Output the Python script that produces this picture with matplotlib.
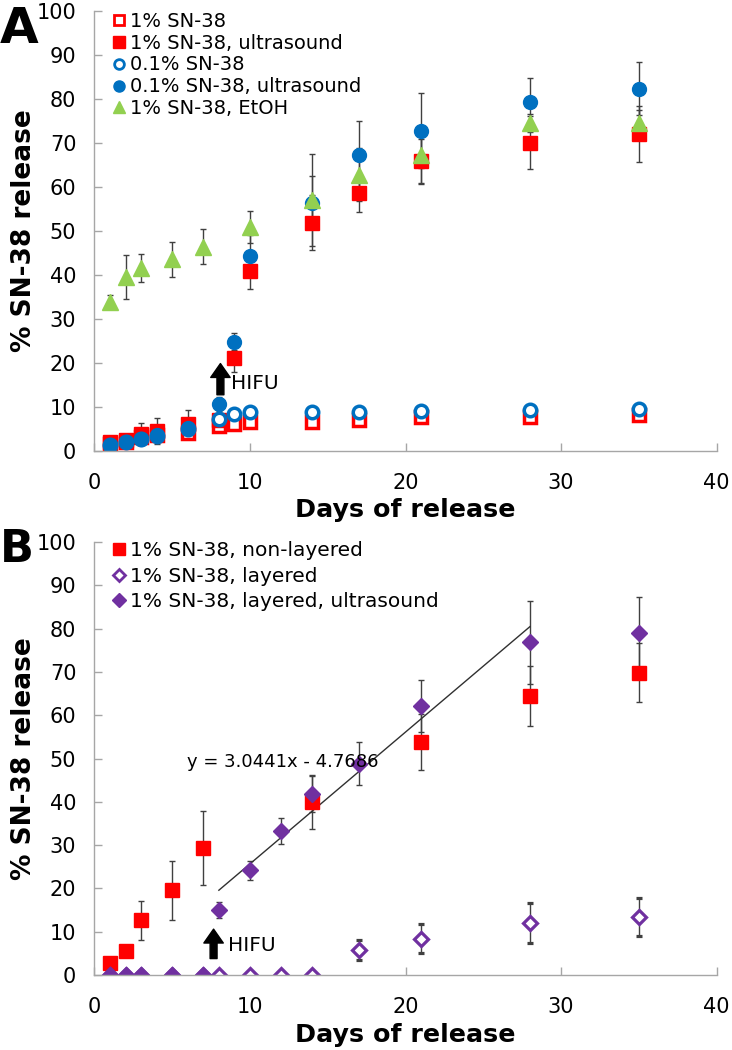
import matplotlib
matplotlib.use("Agg")
import matplotlib.pyplot as plt
from matplotlib.lines import Line2D

plt.rcParams['font.family'] = ['DejaVu Sans']

# ---------------- Panel A data ----------------
days_a = [1, 2, 3, 4, 6, 8, 9, 10, 14, 17, 21, 28, 35]
red_open = [1.5, 2.0, 3.0, 3.5, 4.0, 5.5, 6.0, 6.5, 6.6, 7.0, 7.6, 7.7, 8.1]
red_open_err = [0.5, 0.5, 0.5, 0.5, 0.8, 0.8, 0.8, 1.0, 1.0, 1.0, 1.0, 0.8, 0.8]
red_fill = [2.0, 2.5, 3.8, 4.5, 6.0, 7.0, 21.1, 40.8, 51.8, 58.5, 65.9, 70.0, 71.9]
red_fill_err = [0.5, 0.8, 2.6, 3.0, 3.2, 1.0, 3.3, 4.0, 6.2, 4.2, 5.0, 6.0, 6.4]
blue_open = [1.3, 2.0, 2.6, 3.4, 5.0, 7.1, 8.3, 8.7, 8.7, 8.9, 9.0, 9.2, 9.4]
blue_open_err = [0.3, 0.3, 0.3, 0.3, 0.5, 0.8, 0.8, 0.8, 0.8, 0.8, 0.8, 0.8, 0.8]
blue_fill = [1.3, 2.0, 2.6, 3.6, 5.1, 10.6, 24.8, 44.3, 56.4, 67.2, 72.7, 79.3, 82.3]
blue_fill_err = [0.3, 0.4, 0.5, 0.6, 1.0, 1.5, 1.9, 4.8, 6.0, 7.8, 8.5, 5.5, 6.0]
days_g = [1, 2, 3, 5, 7, 10, 14, 17, 21, 28, 35]
green = [33.9, 39.5, 41.6, 43.5, 46.4, 50.9, 57.0, 62.7, 67.2, 74.5, 74.5]
green_err = [1.5, 5.0, 3.2, 4.0, 4.0, 3.6, 10.4, 6.0, 6.5, 2.0, 3.0]
labels_a = ["1% SN-38", "1% SN-38, ultrasound", "0.1% SN-38",
            "0.1% SN-38, ultrasound", "1% SN-38, EtOH"]

# ---------------- Panel B data ----------------
days_b_red = [1, 2, 3, 5, 7, 14, 21, 28, 35]
red_b = [2.7, 5.5, 12.7, 19.6, 29.3, 40.0, 53.8, 64.4, 69.8]
red_b_err = [0.8, 1.0, 4.5, 6.8, 8.6, 6.3, 6.5, 7.0, 6.8]
days_b = [1, 2, 3, 5, 7, 8, 10, 12, 14, 17, 21, 28, 35]
layered = [0, 0, 0, 0, 0, 0, 0, 0, 0, 5.8, 8.4, 12.1, 13.5]
layered_err = [0, 0, 0, 0, 0, 0, 0, 0, 0, 2.4, 3.4, 4.6, 4.4]
layered_us = [0, 0, 0, 0, 0, 15.0, 24.2, 33.3, 41.8, 48.8, 62.2, 76.8, 79.0]
layered_us_err = [0, 0, 0, 0, 0, 1.8, 2.2, 3.0, 4.2, 5.0, 6.0, 9.5, 8.4]
labels_b = ["1% SN-38, non-layered", "1% SN-38, layered",
            "1% SN-38, layered, ultrasound"]
trend_slope = 3.0441
trend_intercept = -4.7686
trend_x = [8, 28]
trend_label = "y = 3.0441x - 4.7686"

RED = "#FF0000"
BLUE = "#0070C0"
GREEN = "#92D050"
PURPLE = "#7030A0"
ERR = "#404040"
SPINE = "#A6A6A6"

fig = plt.figure(figsize=(7.32, 10.5), dpi=100)
axA = fig.add_axes([0.129, 0.5708, 0.850, 0.4190])
axB = fig.add_axes([0.129, 0.0714, 0.850, 0.4124])

ekw = dict(ecolor=ERR, elinewidth=1.0, capsize=2.5, capthick=1.0, linestyle='none')


def style(ax):
    ax.set_xlim(0, 40)
    ax.set_ylim(0, 100)
    ax.set_xticks([0, 10, 20, 30, 40])
    ax.set_yticks(range(0, 101, 10))
    for s in ['top', 'right']:
        ax.spines[s].set_visible(False)
    for s in ['left', 'bottom']:
        ax.spines[s].set_color(SPINE)
        ax.spines[s].set_linewidth(1.0)
    ax.tick_params(direction='in', length=6, width=1, color=SPINE, labelsize=15)
    ax.tick_params(axis='x', pad=16)
    ax.tick_params(axis='y', pad=13)
    ax.set_xlabel("Days of release", fontsize=18.3, fontweight='bold', labelpad=4)
    ax.set_ylabel("% SN-38 release", fontsize=19, fontweight='bold', labelpad=0)


def proxy(marker, ms, mfc, mec, mew):
    return Line2D([], [], linestyle='none', marker=marker, ms=ms,
                  mfc=mfc, mec=mec, mew=mew)


# ---- Panel A ----
axA.errorbar(days_a, red_open, yerr=red_open_err, marker='s', ms=9,
             mfc='white', mec=RED, mew=2.5, **ekw)
axA.errorbar(days_a, red_fill, yerr=red_fill_err, marker='s', ms=10,
             mfc=RED, mec=RED, mew=1, **ekw)
axA.errorbar(days_a, blue_open, yerr=blue_open_err, marker='o', ms=9,
             mfc='white', mec=BLUE, mew=2.5, **ekw)
axA.errorbar(days_a, blue_fill, yerr=blue_fill_err, marker='o', ms=10,
             mfc=BLUE, mec=BLUE, mew=1, **ekw)
axA.errorbar(days_g, green, yerr=green_err, marker='^', ms=11,
             mfc=GREEN, mec=GREEN, mew=1, **ekw)
style(axA)
handles_a = [proxy('s', 7, 'white', RED, 2.0), proxy('s', 8, RED, RED, 1),
             proxy('o', 7, 'white', BLUE, 2.0), proxy('o', 8, BLUE, BLUE, 1),
             proxy('^', 9, GREEN, GREEN, 1)]
axA.legend(handles_a, labels_a, loc='upper left', bbox_to_anchor=(0.032, 0.998),
           frameon=False, fontsize=14, handlelength=0.5, handletextpad=0.3,
           labelspacing=0.15, borderaxespad=0, borderpad=0)
axA.annotate("", xy=(8.1, 19.8), xytext=(8.1, 12.7),
             arrowprops=dict(facecolor='black', edgecolor='black',
                             width=5, headwidth=14, headlength=10, shrink=0))
axA.text(8.8, 15.2, "HIFU", fontsize=14.5, va='center', ha='left')
fig.text(0.0, 0.995, "A", fontsize=36, fontweight='bold', va='top', ha='left')

# ---- Panel B ----
axB.errorbar(days_b_red, red_b, yerr=red_b_err, marker='s', ms=10.5,
             mfc=RED, mec=RED, mew=1, **ekw)
axB.errorbar(days_b, layered, yerr=layered_err, marker='D', ms=7.5,
             mfc='white', mec=PURPLE, mew=2.3, **ekw)
axB.errorbar(days_b, layered_us, yerr=layered_us_err, marker='D', ms=8.5,
             mfc=PURPLE, mec=PURPLE, mew=1, **ekw)
axB.plot(trend_x, [trend_slope * x + trend_intercept for x in trend_x],
         color='#303030', lw=1.0)
axB.text(12.1, 49.2, trend_label, fontsize=13, ha='center', va='center')
style(axB)
handles_b = [proxy('s', 8, RED, RED, 1), proxy('D', 6, 'white', PURPLE, 2.0),
             proxy('D', 7, PURPLE, PURPLE, 1)]
axB.legend(handles_b, labels_b, loc='upper left', bbox_to_anchor=(0.032, 1.002),
           frameon=False, fontsize=14.5, handlelength=0.5, handletextpad=0.3,
           labelspacing=0.32, borderaxespad=0, borderpad=0)
axB.annotate("", xy=(7.66, 10.6), xytext=(7.66, 3.8),
             arrowprops=dict(facecolor='black', edgecolor='black',
                             width=5, headwidth=14, headlength=10, shrink=0))
axB.text(8.6, 6.8, "HIFU", fontsize=14.5, va='center', ha='left')
fig.text(0.0, 0.497, "B", fontsize=32, fontweight='bold', va='top', ha='left')

fig.savefig("out.png", dpi=100)
